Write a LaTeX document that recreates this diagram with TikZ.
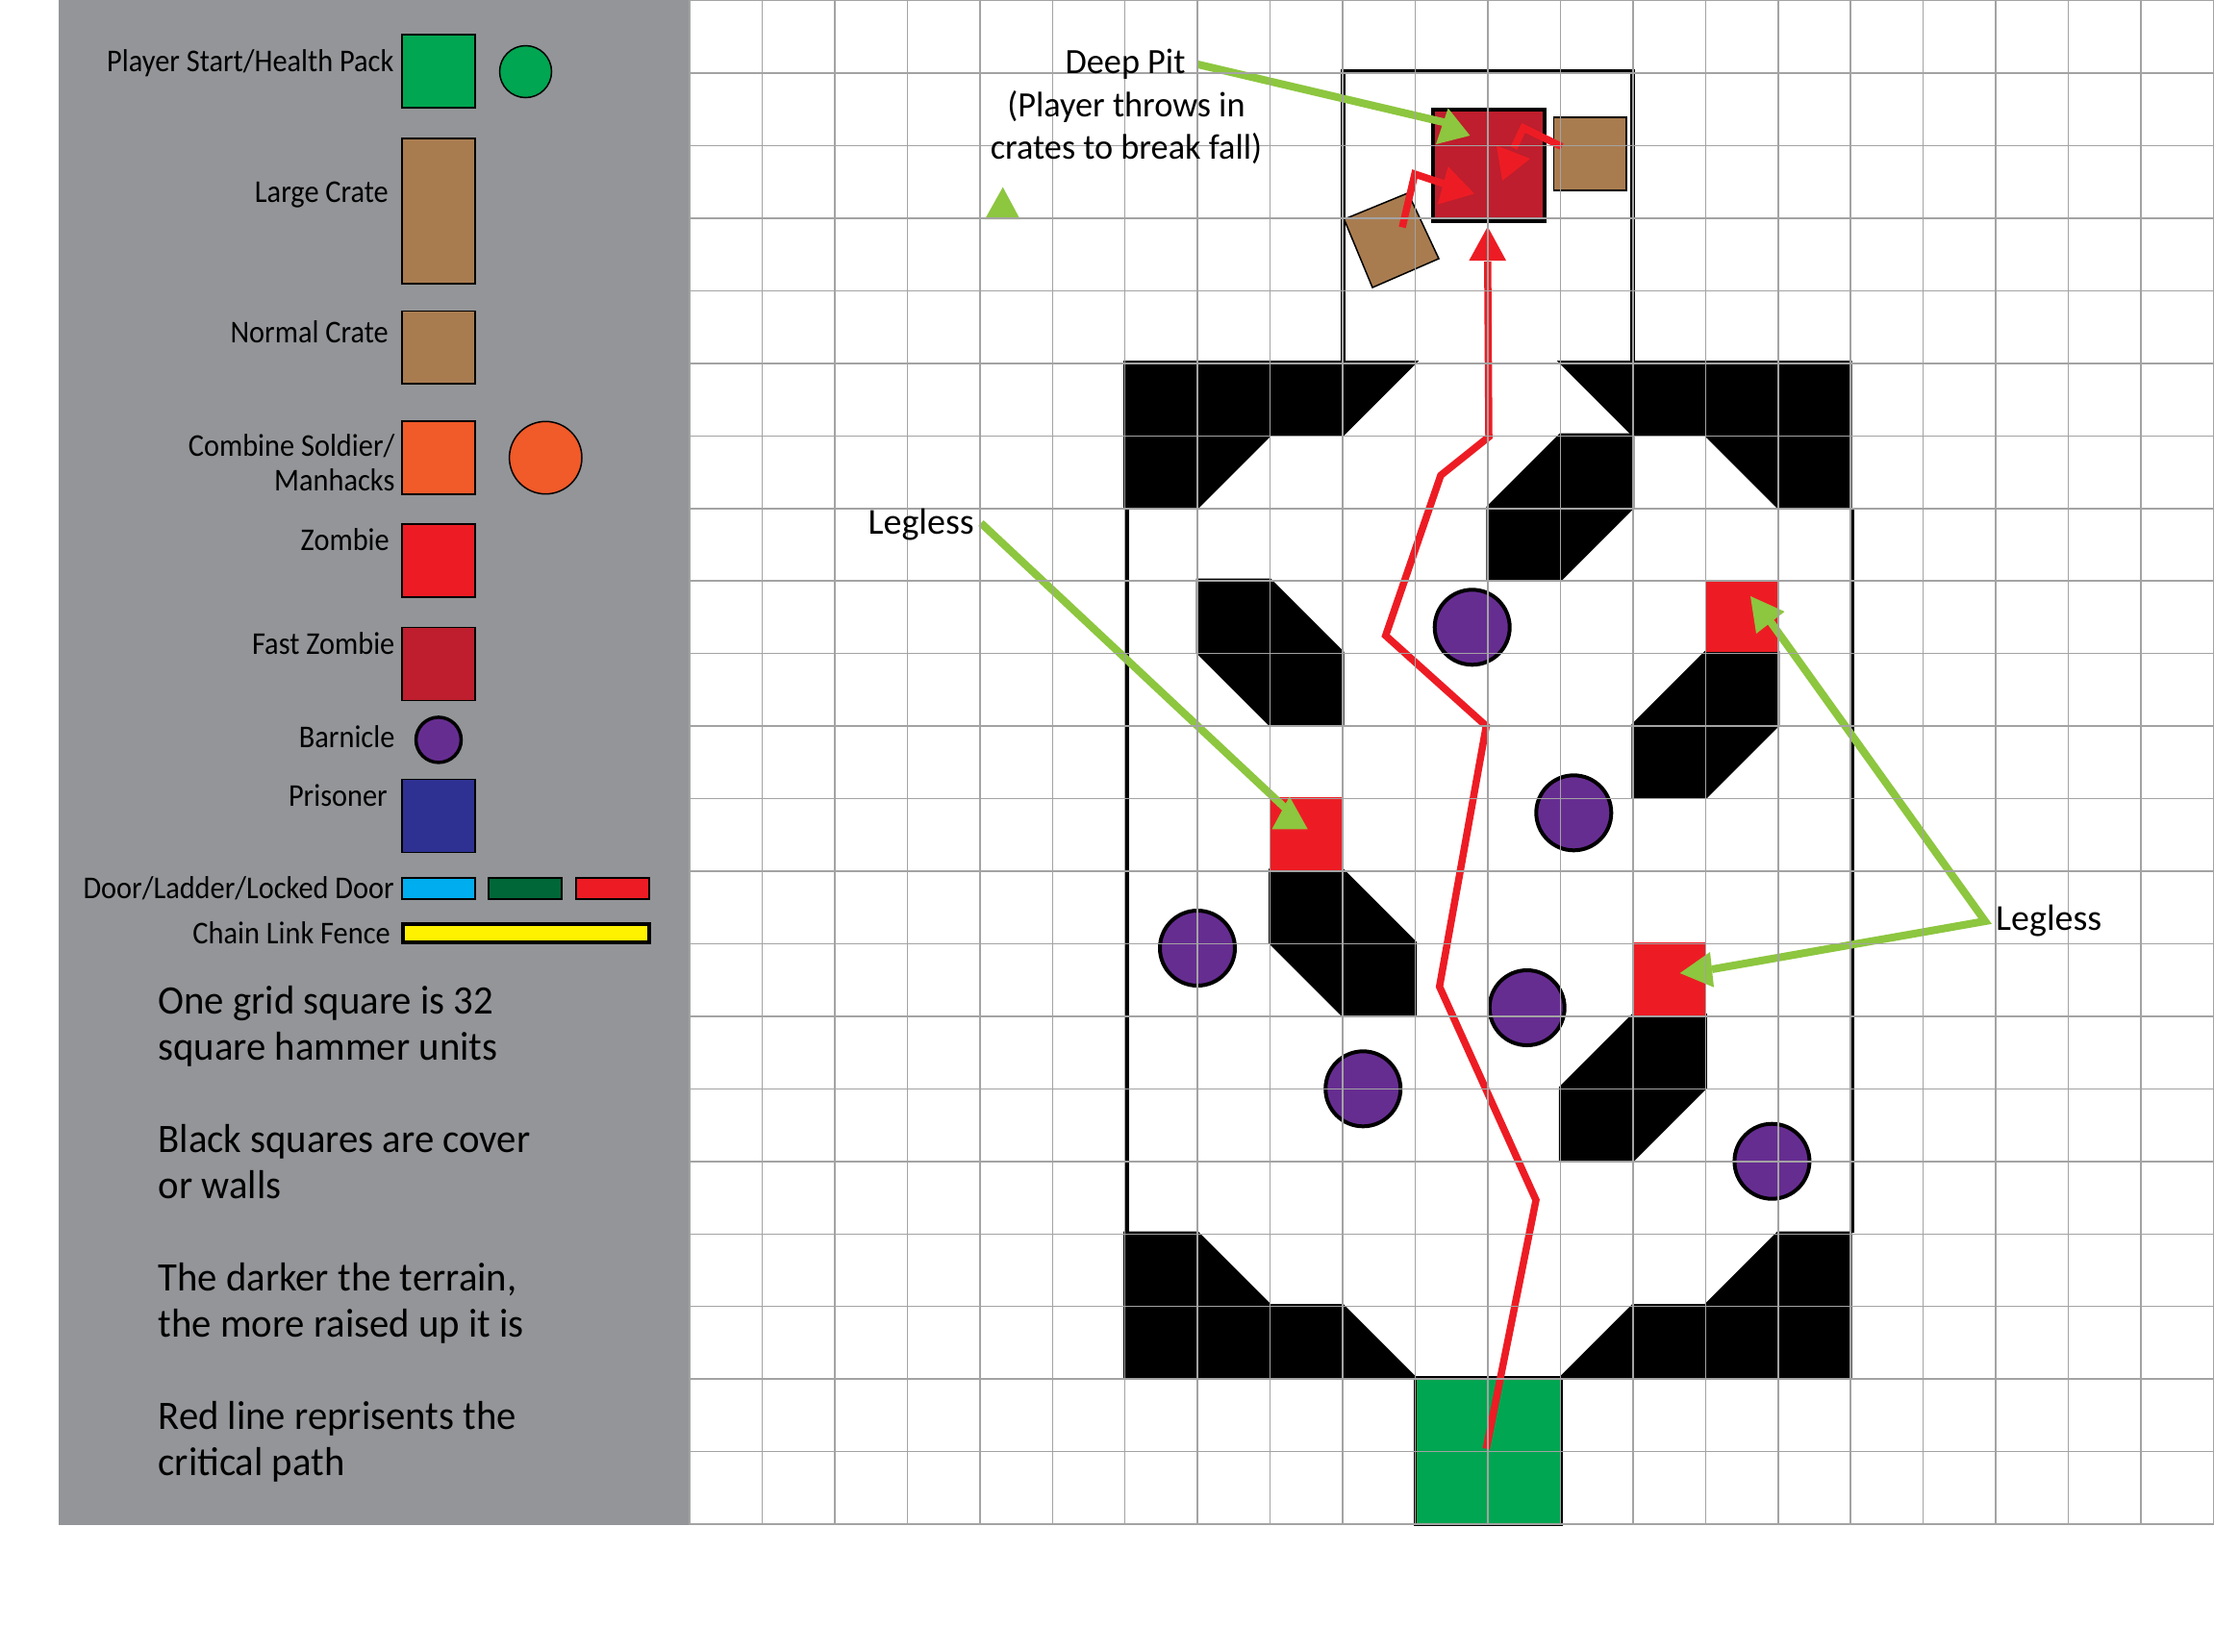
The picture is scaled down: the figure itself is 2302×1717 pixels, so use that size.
\documentclass[tikz,border=0pt]{standalone}
\usepackage{fontspec}
\setmainfont{Carlito}
\newfontfamily\legfont[FakeStretch=0.92]{Carlito}
\newfontfamily\notefont[FakeStretch=0.97]{Carlito}
\newfontfamily\throwfont[FakeStretch=0.98]{Carlito}
\definecolor{panelgrey}{HTML}{939598}
\definecolor{gridgrey}{HTML}{A3A3A3}
\definecolor{startgreen}{HTML}{00A651}
\definecolor{crate}{HTML}{A97C50}
\definecolor{combine}{HTML}{F15A29}
\definecolor{zombie}{HTML}{ED1C24}
\definecolor{fastzombie}{HTML}{BE1E2D}
\definecolor{barnicle}{HTML}{662D91}
\definecolor{prisoner}{HTML}{2E3192}
\definecolor{door}{HTML}{00AEEF}
\definecolor{ladder}{HTML}{006838}
\definecolor{fence}{HTML}{FFF200}
\definecolor{callout}{HTML}{8DC63F}
\tikzset{
  legendbox/.style={draw=black,line width=1.5pt},
  coverblock/.style={fill=black,draw=black,line width=3pt},
  barn/.style={circle,draw=black,fill=barnicle,line width=4pt,minimum size=78pt,inner sep=0pt},
  legtext/.style={anchor=base east,inner sep=0pt,font=\legfont\fontsize{33}{37}\selectfont},
  notetext/.style={anchor=base west,inner sep=0pt,align=left,font=\notefont\fontsize{42}{48}\selectfont},
  calltext/.style={inner sep=0pt,font=\throwfont\fontsize{37}{44}\selectfont},
  legless/.style={inner sep=0pt,font=\fontsize{38}{44}\selectfont},
  pathline/.style={draw=zombie,line width=7.5pt},
  pathhead/.style={fill=zombie},
  calline/.style={draw=callout,line width=8pt},
  calhead/.style={fill=callout},
}
\begin{document}
\begin{tikzpicture}[x=1pt,y=-1pt]
\useasboundingbox (0,0) rectangle (2302,1717);
\fill[white] (0,0) rectangle (2302,1717);
\fill[panelgrey] (61,0) rectangle (717,1585.5);

% legend swatches
\draw[legendbox,fill=startgreen] (418,36) rectangle (494,112);
\draw[legendbox,fill=startgreen] (546.5,74.5) circle (27);
\draw[legendbox,fill=crate] (418,144) rectangle (494,295);
\draw[legendbox,fill=crate] (418,323.5) rectangle (494,399);
\draw[legendbox,fill=combine] (418,438) rectangle (494,514);
\draw[legendbox,fill=combine] (567.3,476) circle (37.7);
\draw[legendbox,fill=zombie] (418,545) rectangle (494,621);
\draw[legendbox,fill=fastzombie] (418,652.6) rectangle (494,728.6);
\draw[draw=black,line width=3.5pt,fill=barnicle] (456,769.4) circle (23.5);
\draw[legendbox,fill=prisoner] (418,810.7) rectangle (494,886.7);
\draw[legendbox,fill=door] (418,913.2) rectangle (494,934.8);
\draw[legendbox,fill=ladder] (508,913.2) rectangle (584,934.8);
\draw[legendbox,fill=zombie] (599,913.2) rectangle (675,934.8);
\draw[draw=black,line width=4pt,fill=fence] (419,960.5) rectangle (675,979.5);

% legend labels
\node[legtext] (lstart) at (409.5,74.5) {Player Start/Health Pack};
\node[legtext] (lcrate) at (404,210) {Large Crate};
\node[legtext] (ncrate) at (404,356) {Normal Crate};
\node[legtext] (lcomb) at (410.6,474.5) {Combine Soldier/};
\node[legtext] (lman) at (410.6,510.5) {Manhacks};
\node[legtext] (lzomb) at (405,572.4) {Zombie};
\node[legtext] (lfast) at (410.6,680) {Fast Zombie};
\node[legtext] (lbarn) at (410.6,777) {Barnicle};
\node[legtext] (lpris) at (403,838) {Prisoner};
\node[legtext] (ldoor) at (410,934) {Door/Ladder/Locked Door};
\node[legtext] (lfence) at (406,981) {Chain Link Fence};

% notes (base anchor is the last line)
\node[notetext] (note1) at (164.4,1102.2) {One grid square is 32\\square hammer units};
\node[notetext] (note2) at (164.4,1246.1) {Black squares are cover\\or walls};
\node[notetext] (note3) at (164.4,1390.1) {The darker the terrain,\\the more raised up it is};
\node[notetext] (note4) at (164.4,1534) {Red line reprisents the\\critical path};

\begin{scope}[shift={(717pt,0.6pt)},x=75.45pt,y=-75.45pt]
  % outer walls and pit room
  \draw[black,line width=3.5pt] (6.03,7) -- (6.03,17);
  \draw[black,line width=3.5pt] (16.03,7) -- (16.03,17);
  \draw[black,line width=5pt] (9,5) -- (9,1) -- (13,1) -- (13,5);
  % cover
  \path[coverblock] (6,5) -- (10,5) -- (9,6) -- (8,6) -- (7,7) -- (6,7) -- cycle;
  \path[coverblock] (12,5) -- (16,5) -- (16,7) -- (15,7) -- (14,6) -- (13,6) -- cycle;
  \path[coverblock] (12,6) -- (13,6) -- (13,7) -- (12,8) -- (11,8) -- (11,7) -- cycle;
  \path[coverblock] (7,8) -- (8,8) -- (9,9) -- (9,10) -- (8,10) -- (7,9) -- cycle;
  \path[coverblock] (14,9) -- (15,9) -- (15,10) -- (14,11) -- (13,11) -- (13,10) -- cycle;
  \path[coverblock] (8,12) -- (9,12) -- (10,13) -- (10,14) -- (9,14) -- (8,13) -- cycle;
  \path[coverblock] (13,14) -- (14,14) -- (14,15) -- (13,16) -- (12,16) -- (12,15) -- cycle;
  \path[coverblock] (6,17) -- (7,17) -- (8,18) -- (9,18) -- (10,19) -- (6,19) -- cycle;
  \path[coverblock] (16,17) -- (15,17) -- (14,18) -- (13,18) -- (12,19) -- (16,19) -- cycle;
  % zombies and start
  \fill[zombie] (14,8) rectangle (15,9);
  \fill[zombie] (8,11) rectangle (9,12);
  \fill[zombie] (13,13) rectangle (14,14);
  \draw[black,line width=3pt,fill=startgreen] (10,19) rectangle (12.02,21.02);
\end{scope}

% pit and crates
\draw[black,line width=4pt,fill=fastzombie] (1489.6,114) rectangle (1606,230);
\draw[legendbox,fill=crate] (1615.6,122) rectangle (1691,198);
\draw[legendbox,fill=crate] (1397.5,228) -- (1464,200.7) -- (1496,269) -- (1427,299) -- cycle;

% barnicles
\node[barn] (b1) at (1530.7,652.3) {};
\node[barn] (b2) at (1636.3,845.3) {};
\node[barn] (b3) at (1245,986) {};
\node[barn] (b4) at (1587.7,1048) {};
\node[barn] (b5) at (1417.2,1132.3) {};
\node[barn] (b6) at (1842.4,1207.7) {};

% critical path
\coordinate (pathstart) at (1545.3,1506.6);
\coordinate (pathend) at (1546.8,272);
\draw[pathline] (pathstart) -- (1597,1248) -- (1496.7,1026) -- (1545.3,755) -- (1440.7,661) -- (1498,494.3) -- (1548,454.3) -- (pathend);
\fill[pathhead] (1546.8,235.7) -- (1566,271) -- (1527.4,271) -- cycle;
\draw[pathline] (1458,236.4) -- (1471,181) -- (1504,192);
\fill[pathhead] (1533,201.4) -- (1495,212.5) -- (1505.6,173) -- cycle;
\draw[pathline] (1624,152.5) -- (1584,133) -- (1574,154);
\fill[pathhead] (1562,188) -- (1556,151.4) -- (1591,165) -- cycle;

% callout connectors
\coordinate (deepfrom) at (1244.8,66.8);
\coordinate (leg1from) at (1020,544);
\coordinate (leg2from) at (2064,958);
\draw[calline] (deepfrom) -- (1505,128);
\fill[calhead] (1528.4,141) -- (1493,150) -- (1505.6,112.5) -- cycle;
\fill[calhead] (1042.7,194.6) -- (1060.6,228) -- (1024,228) -- cycle;
\draw[calline] (leg1from) -- (1346.6,850);
\fill[calhead] (1340.8,828.3) -- (1359.7,862.3) -- (1322.5,862.3) -- cycle;
\draw[calline] (1841,646.7) -- (leg2from) -- (1780,1008);
\fill[calhead] (1820,620) -- (1855.5,636) -- (1826,659) -- cycle;
\fill[calhead] (1746.7,1012) -- (1778,990) -- (1782,1026.7) -- cycle;

% grid over the shapes
\foreach \k in {0,...,21} {
  \draw[gridgrey,line width=1.5pt] ({717+75.45*\k},0) -- ({717+75.45*\k},1585.5);
  \draw[gridgrey,line width=1.5pt] (717,{0.6+75.45*\k}) -- (2302,{0.6+75.45*\k});
}

% callout text over the grid
\node[calltext,anchor=base] (deep) at (1170,76) {Deep Pit};
\node[calltext,anchor=base,align=center] (throw) at (1171,165.5) {(Player throws in\\crates to break fall)};
\node[legless,anchor=base east] (leg1) at (1013,555) {Legless};
\node[legless,anchor=base west] (leg2) at (2075,967.5) {Legless};
\end{tikzpicture}
\end{document}
